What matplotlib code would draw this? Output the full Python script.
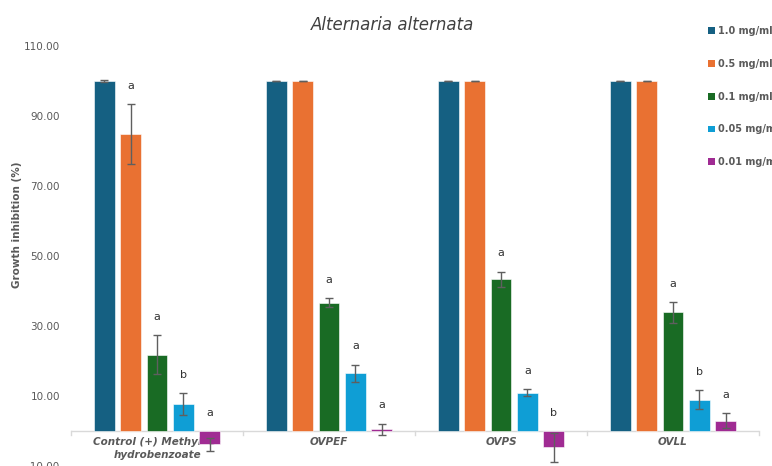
import numpy as np
import matplotlib.pyplot as plt
from matplotlib.patches import Patch

# Data
groups = ["Control (+) Methyl -3-\nhydrobenzoate", "OVPEF", "OVPS", "OVLL"]
concs = ["1.0 mg/ml", "0.5 mg/ml", "0.1 mg/ml", "0.05 mg/ml", "0.01 mg/ml"]

val_10 = [100.0, 100.0, 100.0, 100.0]
val_05 = [84.8, 100.0, 100.0, 100.0]
val_01 = [21.8, 36.7, 43.3, 33.9]
val_005 = [7.7, 16.5, 11.0, 8.9]
val_001 = [-3.8, 0.5, -4.7, 3.0]

err_10 = [0.2, 0.1, 0.1, 0.1]
err_05 = [8.6, 0.1, 0.1, 0.1]
err_01 = [5.6, 1.2, 2.2, 3.0]
err_005 = [3.2, 2.5, 1.0, 2.7]
err_001 = [1.9, 1.6, 4.2, 2.2]

let_05 = ["a", "", "", ""]
let_01 = ["a", "a", "a", "a"]
let_005 = ["b", "a", "a", "b"]
let_001 = ["a", "a", "b", "a"]

values = [val_10, val_05, val_01, val_005, val_001]
errors = [err_10, err_05, err_01, err_005, err_001]
letters = [["", "", "", ""], let_05, let_01, let_005, let_001]
colors = ["#156082", "#E97132", "#196B24", "#0F9ED5", "#A02B93"]

txt = "#595959"

fig = plt.figure(figsize=(7.72, 4.66), dpi=100)
ax = fig.add_axes([71 / 772, 0.0, 688 / 772, 420 / 466])

x = np.arange(len(groups))
width = 0.122
pitch = 0.154

for i in range(len(concs)):
    xs = x + (i - 2) * pitch
    ax.bar(xs, values[i], width, color=colors[i], edgecolor="white",
           linewidth=0.4, zorder=3)
    ax.errorbar(xs, values[i], yerr=errors[i], fmt="none", ecolor="#5f5f5f",
                elinewidth=1, capsize=3, capthick=1, zorder=4)
    for j in range(len(groups)):
        if letters[i][j]:
            top = max(values[i][j] + errors[i][j], 0)
            ax.text(xs[j], top + 3.8, letters[i][j], ha="center", va="bottom",
                    fontsize=8, color="#333333")

ax.set_xlim(-0.5, 3.5)
ax.set_ylim(-10, 110)
ax.set_yticks(np.arange(-10, 111, 20))
ax.set_yticklabels([f"{v:.2f}".replace("-", "\u2212") for v in np.arange(-10, 111, 20)])
ax.tick_params(axis="y", length=0, pad=8, labelsize=7.5, labelcolor=txt)

ax.set_xticks([])
for s in ["top", "right", "left", "bottom"]:
    ax.spines[s].set_visible(False)
ax.axhline(0, color="#d9d9d9", linewidth=1, zorder=2)
for b in np.arange(-0.5, 3.6, 1.0):
    ax.plot([b, b], [0, -1.2], color="#d9d9d9", linewidth=1, zorder=2,
            clip_on=False)

# category labels sit just under the zero line
for j, g in enumerate(groups):
    ax.text(x[j], -1.8, g, ha="center", va="top", fontsize=7.5, style="italic",
            fontweight="bold", color=txt, zorder=1, linespacing=1.4)

fig.text(17 / 772, 1 - 225 / 466, "Growth inhibition (%)", rotation=90,
         ha="center", va="center", fontsize=7.5, fontweight="bold", color=txt)

fig.text(393 / 772, 1 - 25 / 466, "Alternaria alternata", ha="center",
         va="center", fontsize=12, style="italic", color="#404040")

handles = [Patch(facecolor=c) for c in colors]
fig.legend(handles, concs, loc="upper left", bbox_to_anchor=(704 / 772, 1 - 22 / 466),
           frameon=False, handlelength=0.7, handleheight=0.7, handletextpad=0.3,
           labelspacing=2.35, prop={"size": 7, "weight": "bold"},
           labelcolor=txt, borderaxespad=0)

fig.savefig("out.png", dpi=100)
